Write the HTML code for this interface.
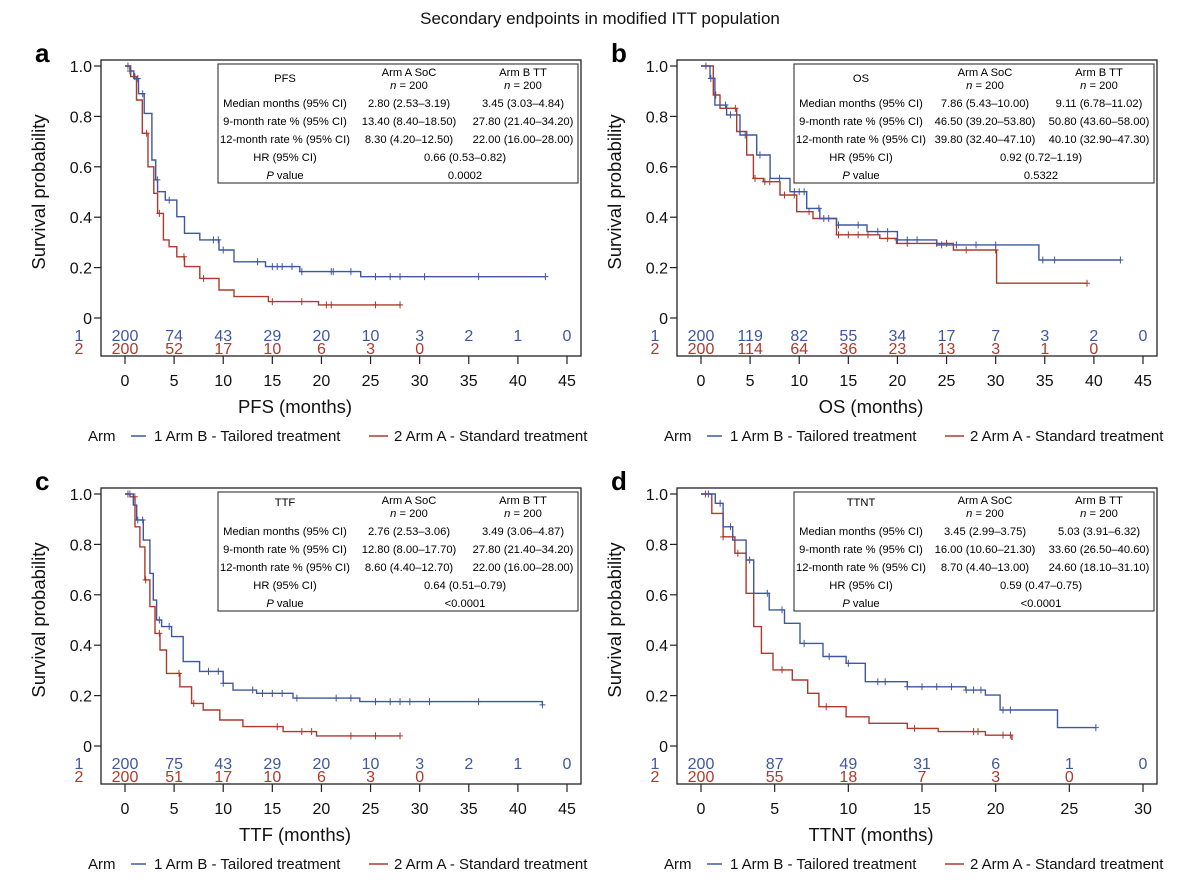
<!DOCTYPE html>
<html><head><meta charset="utf-8">
<style>
body{margin:0;background:#fff;}
svg{display:block;font-family:"Liberation Sans",sans-serif;}
</style></head>
<body>
<svg id="fig" width="1200" height="882" viewBox="0 0 1200 882">
<text x="600" y="24" text-anchor="middle" font-size="17" fill="#111">Secondary endpoints in modified ITT population</text>
</svg>
<script>
// ---------- data ----------
// Panel a (PFS)
const aBlueT=[0,0.5,0.9,1.37,1.95,2.74,3.13,3.32,4.1,5.27,6.06,7.62,9.57,11.1,14.3,17.8,24,42.8];
const aBlueS=[1,0.98,0.95,0.89,0.812,0.627,0.548,0.501,0.468,0.402,0.336,0.31,0.27,0.223,0.204,0.184,0.164,0.164];
const aRedT=[0,0.58,1.17,1.76,2.34,2.93,3.32,3.91,4.49,5.27,6.06,7.62,9.57,11.1,14.6,19.7,28.1];
const aRedS=[1,0.958,0.865,0.733,0.6,0.495,0.415,0.31,0.283,0.243,0.204,0.157,0.111,0.085,0.065,0.052,0.052];
const aBlueCens=[0.5,1.3,1.8,3.3,4.5,9,9.5,10,13.5,15,15.5,16,17,18,21,21.2,23,25.5,27,28,30.5,36,42.8];
const aRedCens=[0.3,1,2.2,3.5,6,8,15,18,20.5,21,25.5,28];
const aRiskBlue=["200","74","43","29","20","10","3","2","1","0"];
const aRiskRed=["200","52","17","10","6","3","0"];
// Panel b (OS)
const bBlueT=[0,0.92,1.42,2.61,3.97,5.67,7.03,9.06,10.76,12.1,13.8,16.9,20,24,34.4,42.7];
const bBlueS=[1,0.951,0.845,0.806,0.726,0.647,0.554,0.501,0.435,0.395,0.369,0.343,0.31,0.29,0.23,0.23];
const bRedT=[0,1.25,1.93,3.63,4.65,5.33,6.35,8.04,9.74,11.4,13.8,18.2,19.9,25.7,30.1,39.3];
const bRedS=[1,0.885,0.832,0.74,0.647,0.554,0.541,0.488,0.422,0.395,0.33,0.316,0.296,0.27,0.138,0.138];
const bBlueCens=[1,2.5,3,4.5,6,8,9.5,10,10.5,12,13,14,16,18,19,20,21,22,24.5,26,28,30,34.8,36,42.7];
const bRedCens=[0.5,1.5,3.5,5.5,6.5,7,8.5,9.5,11,12.5,14,15,16,17,19,21,24,25,27,30,39.3];
const bRiskBlue=["200","119","82","55","34","17","7","3","2","0"];
const bRiskRed=["200","114","64","36","23","13","3","1","0"];
// Panel c (TTF)
const cBlueT=[0,0.85,1.19,1.86,2.54,2.88,3.22,3.73,4.74,5.93,7.6,10,11,13.4,17.1,23.9,42.5];
const cBlueS=[1,0.956,0.897,0.817,0.685,0.579,0.5,0.474,0.434,0.335,0.296,0.249,0.222,0.209,0.19,0.176,0.163];
const cRedT=[0,0.51,1.02,1.52,2.03,2.54,3.05,3.56,4.23,5.59,6.78,7.96,9.65,12,16.1,19.5,28];
const cRedS=[1,0.989,0.87,0.79,0.659,0.553,0.447,0.381,0.288,0.235,0.169,0.143,0.103,0.077,0.057,0.04,0.04];
const cBlueCens=[0.5,1.3,1.8,3.5,4.5,8.5,9.5,10,13,14,15,16,17.5,21.5,23,25.5,27,28,29,31,36,42.5];
const cRedCens=[0.3,1,2.1,3.5,5.5,7,15.5,18,19,23,25.5,28];
const cRiskBlue=["200","75","43","29","20","10","3","2","1","0"];
const cRiskRed=["200","51","17","10","6","3","0"];
// Panel d (TTNT)
const dBlueT=[0,0.97,1.5,2.15,3.06,3.58,4.63,5.67,6.72,8.28,9.85,11.15,14,17.97,19.3,20.3,24.2,26.8];
const dBlueS=[1,0.963,0.87,0.817,0.738,0.606,0.54,0.487,0.407,0.355,0.328,0.255,0.235,0.222,0.202,0.143,0.073,0.073];
const dRedT=[0,0.73,1.5,2.3,3.06,3.58,4.1,4.89,6.2,7.24,8,9.85,11.4,14,16.1,19.3,21.1];
const dRedS=[1,0.923,0.83,0.765,0.606,0.474,0.368,0.302,0.262,0.209,0.156,0.116,0.09,0.07,0.057,0.043,0.024];
const dBlueCens=[0.5,1.3,2,3.3,4.5,5.5,7,8.7,10,12,12.5,14,15,16,17,18,18.5,19,20.5,21,26.8];
const dRedCens=[0.3,1.5,2.5,5.5,8.5,14.5,18.5,18.8,20.5,21];
const dRiskBlue=["200","87","49","31","6","1","0"];
const dRiskRed=["200","55","18","7","3","0"];
// x tick labels
const ticks45=[0,5,10,15,20,25,30,35,40,45];
const ticks30=[0,5,10,15,20,25,30];
const yTicks=[0,0.2,0.4,0.6,0.8,1.0];
const yTickLabels=["0","0.2","0.4","0.6","0.8","1.0"];

const BLUE="#3f57a3", RED="#ad3a2c";
const NS="http://www.w3.org/2000/svg";
const svg=document.getElementById('fig');
function mk(tag,attrs,parent){const e=document.createElementNS(NS,tag);for(const k in attrs)e.setAttribute(k,attrs[k]);(parent||svg).appendChild(e);return e;}
function txt(str,attrs,parent){const e=mk('text',attrs,parent);e.textContent=str;return e;}

function stepAt(T,S,t){let s=S[0];for(let i=0;i<T.length;i++){if(T[i]<=t)s=S[i];}return s;}

function panel(p){
  const L=p.left, Tp=p.top, W=480, H=296;
  const xmax=p.ticks[p.ticks.length-1];
  const x=t=>L+24+t*442/xmax;
  const y=s=>Tp+258-s*252;
  const g=mk('g',{});
  
  
  const letter=txt(p.id,{x:L-66,y:Tp+2,'font-size':26,'font-weight':'bold',fill:'#000'},g);
  
  
  const box=mk('rect',{x:L,y:Tp,width:W,height:H,fill:'none',stroke:'#222','stroke-width':1.3},g);
  
  
  yTicks.forEach((v,i)=>{
    mk('line',{x1:L-7,x2:L,y1:y(v),y2:y(v),stroke:'#222','stroke-width':1.2},g);
    const t=txt(yTickLabels[i],{x:L-9,y:y(v)+6,'text-anchor':'end','font-size':16,fill:'#111'},g);
    
    
  });
  const yl=txt('Survival probability',{x:0,y:0,'text-anchor':'middle','font-size':18.5,fill:'#111',transform:`translate(${L-56},${y(0.5)}) rotate(-90)`},g);
  
  
  p.ticks.forEach(v=>{
    mk('line',{x1:x(v),x2:x(v),y1:Tp+H,y2:Tp+H+8,stroke:'#222','stroke-width':1.2},g);
    const t=txt(String(v),{x:x(v),y:Tp+H+30,'text-anchor':'middle','font-size':16,fill:'#111'},g);
    
    
  });
  const xl=txt(p.xtitle,{x:L+194,y:Tp+H+57,'text-anchor':'middle','font-size':18.5,fill:'#111'},g);
  
  
  const r1=txt('1',{x:L-22,y:Tp+281,'text-anchor':'middle','font-size':16,fill:BLUE},g);
  
  
  const r2=txt('2',{x:L-22,y:Tp+294,'text-anchor':'middle','font-size':16,fill:RED},g);
  
  
  p.riskB.forEach((v,i)=>{const t=txt(v,{x:x(p.ticks[i]),y:Tp+281,'text-anchor':'middle','font-size':16,fill:BLUE},g);
    
    });
  p.riskR.forEach((v,i)=>{const t=txt(v,{x:x(p.ticks[i]),y:Tp+294,'text-anchor':'middle','font-size':16,fill:RED},g);
    
    });
  function curve(T,S,cens,color,name){
    let d=`M${x(T[0])},${y(S[0])}`;
    for(let i=1;i<T.length;i++){d+=` H${x(T[i]).toFixed(1)} V${y(S[i]).toFixed(1)}`;}
    const c=mk('path',{d:d,fill:'none',stroke:color,'stroke-width':1.4},g);
    
    
    cens.forEach(t=>{const cx=x(t), cy=y(stepAt(T,S,t));
      const m=mk('path',{d:`M${cx-3},${cy}H${cx+3}M${cx},${cy-3.5}V${cy+3.5}`,stroke:color,'stroke-width':1},g);
      
      });
  }
  curve(p.rT,p.rS,p.rC,RED,'curve-arm-a');
  curve(p.bT,p.bS,p.bC,BLUE,'curve-arm-b');
  const tx=L+117, ty=Tp+4;
  const tb=mk('g',{},g);
  
  
  mk('rect',{x:tx,y:ty,width:360,height:119,fill:'#fff',stroke:'#333','stroke-width':1.1},tb);
  const fs=11.2;
  txt(p.ep,{x:tx+67,y:ty+(p.id==='a'||p.id==='b'?18:14),'text-anchor':'middle','font-size':fs},tb);
  txt('Arm A SoC',{x:tx+191,y:ty+12,'text-anchor':'middle','font-size':fs},tb);
  txt('Arm B TT',{x:tx+305,y:ty+12,'text-anchor':'middle','font-size':fs},tb);
  [tx+191,tx+305].forEach(cx=>{const t=txt('',{x:cx,y:ty+25,'text-anchor':'middle','font-size':fs},tb);
    const i=document.createElementNS(NS,'tspan');i.setAttribute('font-style','italic');i.textContent='n';t.appendChild(i);
    t.appendChild(document.createTextNode(' = 200'));});
  const rows=['Median months (95% CI)','9-month rate % (95% CI)','12-month rate % (95% CI)'];
  rows.forEach((r,i)=>{
    txt(r,{x:tx+67,y:ty+43+i*18,'text-anchor':'middle','font-size':fs},tb);
    txt(p.stA[i],{x:tx+191,y:ty+43+i*18,'text-anchor':'middle','font-size':fs},tb);
    txt(p.stB[i],{x:tx+305,y:ty+43+i*18,'text-anchor':'middle','font-size':fs},tb);
  });
  txt('HR (95% CI)',{x:tx+67,y:ty+97,'text-anchor':'middle','font-size':fs},tb);
  txt(p.hr,{x:tx+247,y:ty+97,'text-anchor':'middle','font-size':fs},tb);
  const pv=txt('',{x:tx+67,y:ty+115,'text-anchor':'middle','font-size':fs},tb);
  const pi=document.createElementNS(NS,'tspan');pi.setAttribute('font-style','italic');pi.textContent='P';pv.appendChild(pi);
  pv.appendChild(document.createTextNode(' value'));
  txt(p.p,{x:tx+247,y:ty+115,'text-anchor':'middle','font-size':fs},tb);
  const lg=mk('g',{},g);
  
  
  const ly=Tp+376;
  txt('Arm',{x:L-13,y:ly+5,'font-size':15,fill:'#111'},lg);
  mk('line',{x1:L+30,x2:L+45,y1:ly,y2:ly,stroke:BLUE,'stroke-width':1.5},lg);
  const e1=txt('1 Arm B - Tailored treatment',{x:L+53,y:ly+5,'font-size':15,fill:'#111'},lg);
  
  
  mk('line',{x1:L+268,x2:L+287,y1:ly,y2:ly,stroke:RED,'stroke-width':1.5},lg);
  const e2=txt('2 Arm A - Standard treatment',{x:L+293,y:ly+5,'font-size':15,fill:'#111'},lg);
  
  
}

panel({id:'a',left:101,top:60,ticks:ticks45,xtitle:'PFS (months)',ep:'PFS',
  bT:aBlueT,bS:aBlueS,bC:aBlueCens,rT:aRedT,rS:aRedS,rC:aRedCens,riskB:aRiskBlue,riskR:aRiskRed,
  stA:['2.80 (2.53–3.19)','13.40 (8.40–18.50)','8.30 (4.20–12.50)'],
  stB:['3.45 (3.03–4.84)','27.80 (21.40–34.20)','22.00 (16.00–28.00)'],hr:'0.66 (0.53–0.82)',p:'0.0002'});
panel({id:'b',left:677,top:60,ticks:ticks45,xtitle:'OS (months)',ep:'OS',
  bT:bBlueT,bS:bBlueS,bC:bBlueCens,rT:bRedT,rS:bRedS,rC:bRedCens,riskB:bRiskBlue,riskR:bRiskRed,
  stA:['7.86 (5.43–10.00)','46.50 (39.20–53.80)','39.80 (32.40–47.10)'],
  stB:['9.11 (6.78–11.02)','50.80 (43.60–58.00)','40.10 (32.90–47.30)'],hr:'0.92 (0.72–1.19)',p:'0.5322'});
panel({id:'c',left:101,top:488,ticks:ticks45,xtitle:'TTF (months)',ep:'TTF',
  bT:cBlueT,bS:cBlueS,bC:cBlueCens,rT:cRedT,rS:cRedS,rC:cRedCens,riskB:cRiskBlue,riskR:cRiskRed,
  stA:['2.76 (2.53–3.06)','12.80 (8.00–17.70)','8.60 (4.40–12.70)'],
  stB:['3.49 (3.06–4.87)','27.80 (21.40–34.20)','22.00 (16.00–28.00)'],hr:'0.64 (0.51–0.79)',p:'<0.0001'});
panel({id:'d',left:677,top:488,ticks:ticks30,xtitle:'TTNT (months)',ep:'TTNT',
  bT:dBlueT,bS:dBlueS,bC:dBlueCens,rT:dRedT,rS:dRedS,rC:dRedCens,riskB:dRiskBlue,riskR:dRiskRed,
  stA:['3.45 (2.99–3.75)','16.00 (10.60–21.30)','8.70 (4.40–13.00)'],
  stB:['5.03 (3.91–6.32)','33.60 (26.50–40.60)','24.60 (18.10–31.10)'],hr:'0.59 (0.47–0.75)',p:'<0.0001'});
</script>
</body></html>
